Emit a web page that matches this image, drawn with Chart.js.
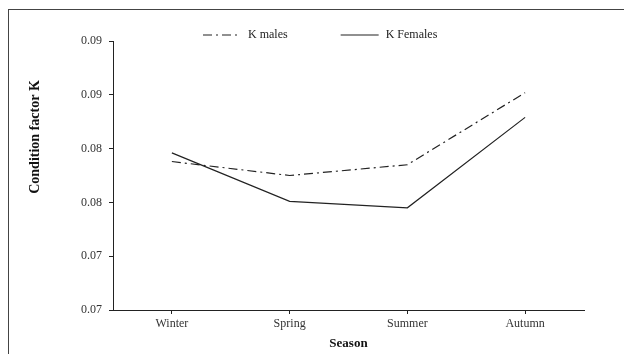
<!DOCTYPE html>
<html>
<head>
<meta charset="utf-8">
<script src="https://cdn.jsdelivr.net/npm/chart.js@4.4.1/dist/chart.umd.min.js"></script>
<style>
  html, body { margin: 0; padding: 0; background: #fff; overflow: hidden; }
  #wrap { position: relative; width: 624px; height: 354px; }
  #frame { position: absolute; left: 8px; top: 9px; width: 700px; height: 400px;
           border-left: 1px solid #444; border-top: 1px solid #444; }
  canvas { position: absolute; left: 0; top: 0; }
</style>
</head>
<body>
<div id="wrap">
  <div id="frame"></div>
  <canvas id="myChart"></canvas>
</div>
<script>
// data
var seasons = ['Winter', 'Spring', 'Summer', 'Autumn'];
var kMales = [0.0788, 0.0775, 0.0785, 0.0852];
var kFemales = [0.0796, 0.0751, 0.0745, 0.0829];
var yTickValues = [0.065, 0.070, 0.075, 0.080, 0.085, 0.090];
var yTickLabels = ['0.07', '0.07', '0.08', '0.08', '0.09', '0.09'];
var yTitle = 'Condition factor K';

var serif = "'Liberation Serif', 'DejaVu Serif', serif";

// excel-style legend above the plot, and the y title placed higher than centre like the original
var excelBits = {
    id: 'excelBits',
    afterDraw: function(chart) {
        var c = chart.ctx;
        var x = 203, y = 35;
        c.save();
        c.font = '12px ' + serif;
        c.textBaseline = 'middle';
        chart.data.datasets.forEach(function(ds) {
            c.strokeStyle = ds.borderColor;
            c.lineWidth = ds.borderWidth;
            c.setLineDash(ds.borderDash || []);
            c.beginPath();
            c.moveTo(x, y);
            c.lineTo(x + 38, y);
            c.stroke();
            c.setLineDash([]);
            c.fillStyle = '#222';
            c.fillText(ds.label, x + 45, y);
            x += 45 + c.measureText(ds.label).width + 53;
        });

        c.translate(35, 137);
        c.rotate(-Math.PI / 2);
        c.font = 'bold 14px ' + serif;
        c.textAlign = 'center';
        c.fillStyle = '#111';
        c.fillText(yTitle, 0, 0);
        c.restore();
    }
};

var ctx = document.getElementById('myChart').getContext('2d');
var myChart = new Chart(ctx, {
    type: 'line',
    data: {
        labels: seasons,
        datasets: [
        {
            label: 'K males',
            data: kMales,
            borderColor: '#222',
            borderWidth: 1.2,
            borderDash: [9, 4, 2, 4],
            pointRadius: 0,
            tension: 0,
            fill: false
        },
        {
            label: 'K Females',
            data: kFemales,
            borderColor: '#222',
            borderWidth: 1.2,
            pointRadius: 0,
            tension: 0,
            fill: false
        }]
    },
    options: {
        responsive: true,
        maintainAspectRatio: false,
        animation: false,
        layout: {
            padding: { top: 41, right: 40, left: 74, bottom: 3 }
        },
        plugins: {
            legend: { display: false },
            tooltip: { enabled: false }
        },
        scales: {
            x: {
                offset: true,
                grid: {
                    display: true,
                    drawOnChartArea: false,
                    drawTicks: true,
                    tickLength: 4,
                    color: '#222'
                },
                border: { color: '#222', width: 1 },
                ticks: {
                    color: '#333',
                    font: { family: serif, size: 12 },
                    padding: 3
                },
                title: {
                    display: true,
                    text: 'Season',
                    color: '#111',
                    font: { family: serif, size: 13, weight: 'bold' },
                    padding: { top: 1, bottom: 0 }
                }
            },
            y: {
                min: 0.065,
                max: 0.09,
                afterBuildTicks: function(axis) {
                    axis.ticks = yTickValues.map(function(v) { return { value: v }; });
                },
                grid: {
                    display: true,
                    drawOnChartArea: false,
                    drawTicks: true,
                    tickLength: 4,
                    color: '#222'
                },
                border: { color: '#222', width: 1 },
                ticks: {
                    color: '#333',
                    font: { family: serif, size: 12 },
                    padding: 7,
                    callback: function(value, index) { return yTickLabels[index]; }
                }
            }
        }
    },
    plugins: [excelBits]
});
</script>
</body>
</html>
